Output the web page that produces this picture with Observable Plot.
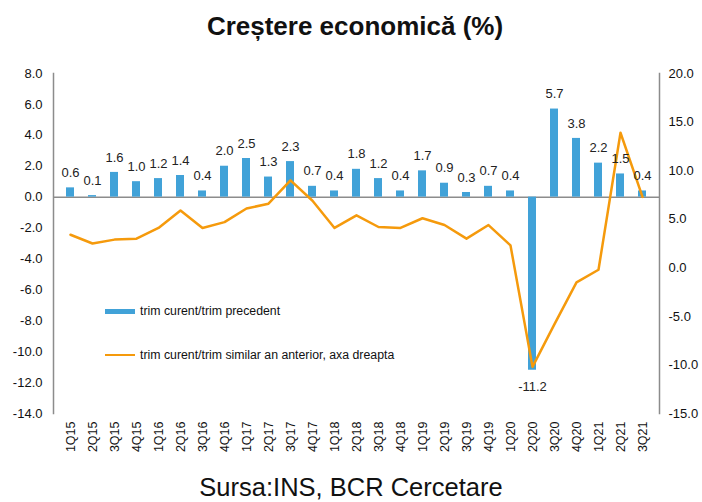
<!DOCTYPE html>
<html>
<head>
<meta charset="utf-8">
<script src="https://cdn.jsdelivr.net/npm/d3@7"></script>
<script src="https://cdn.jsdelivr.net/npm/@observablehq/plot@0.6"></script>
<style>
  body { margin: 0; background: #fff; }
  #wrap { position: relative; width: 702px; height: 502px; overflow: hidden; font-family: "Liberation Sans", Arial, sans-serif; color: #111; }
  #title { position: absolute; left: 0; width: 710px; top: 11px; text-align: center; font-weight: bold; font-size: 26px; line-height: 30px; }
  #source { position: absolute; left: 0; width: 702px; top: 475px; text-align: center; font-size: 25.5px; line-height: 25px; }
  .leg { position: absolute; font-size: 12.3px; line-height: 14px; color: #111; white-space: nowrap; }
  .sw { position: absolute; }
</style>
</head>
<body>
<div id="wrap">
  <div id="chart"></div>
  <div id="title">Creștere economică (%)</div>
  <div class="sw" style="left:105px;top:309px;width:30px;height:5px;background:#41a2d8"></div>
  <div class="leg" style="left:140px;top:304px">trim curent/trim precedent</div>
  <div class="sw" style="left:105px;top:354px;width:30px;height:2px;background:#f59a0c"></div>
  <div class="leg" style="left:140px;top:348px">trim curent/trim similar an anterior, axa dreapta</div>
  <div id="source">Sursa:INS, BCR Cercetare</div>
</div>
<script>
const quarters = ["1Q15","2Q15","3Q15","4Q15","1Q16","2Q16","3Q16","4Q16","1Q17","2Q17","3Q17","4Q17","1Q18","2Q18","3Q18","4Q18","1Q19","2Q19","3Q19","4Q19","1Q20","2Q20","3Q20","4Q20","1Q21","2Q21","3Q21"];
const qoq = [0.6,0.1,1.6,1.0,1.2,1.4,0.4,2.0,2.5,1.3,2.3,0.7,0.4,1.8,1.2,0.4,1.7,0.9,0.3,0.7,0.4,-11.2,5.7,3.8,2.2,1.5,0.4];
const yoy = [3.4,2.5,2.9,3.0,4.1,5.9,4.1,4.7,6.1,6.6,9.0,6.9,4.1,5.4,4.2,4.1,5.1,4.4,3.0,4.4,2.3,-10.2,-5.8,-1.5,-0.2,13.9,7.3];
const leftTicks = [-14,-12,-10,-8,-6,-4,-2,0,2,4,6,8];
const rightTicks = [-15,-10,-5,0,5,10,15,20];

const blue = "#41a2d8", orange = "#f59a0c", axisGray = "#8c8c8c";
const data = quarters.map((q, i) => ({q, qoq: qoq[i], yoy: yoy[i]}));
// right-axis values mapped onto the left-axis domain
const toLeft = d3.scaleLinear().domain([-15, 20]).range([-14, 8]);

const chart = Plot.plot({
  width: 702, height: 502,
  marginLeft: 53, marginRight: 43, marginTop: 73, marginBottom: 89,
  x: {domain: quarters, padding: 0, label: null},
  y: {domain: [-14, 8], label: null},
  style: {fontFamily: "'Liberation Sans', Arial, sans-serif", fontSize: "13px", color: "#111", background: "#fff"},
  marks: [
    Plot.frame({anchor: "left", stroke: axisGray, strokeWidth: 1.5}),
    Plot.frame({anchor: "right", stroke: axisGray, strokeWidth: 1.5}),
    Plot.ruleY([0], {stroke: axisGray, strokeWidth: 1.5}),
    Plot.barY(data, {x: "q", y: "qoq", fill: blue, insetLeft: 7, insetRight: 7}),
    Plot.lineY(data, {x: "q", y: d => toLeft(d.yoy), stroke: orange, strokeWidth: 2.5}),
    Plot.text(data.filter(d => d.qoq >= 0), {x: "q", y: "qoq", text: d => d.qoq.toFixed(1), dy: -15, fontSize: 13, fill: "#222"}),
    Plot.text(data.filter(d => d.qoq < 0), {x: "q", y: "qoq", text: d => d.qoq.toFixed(1), dy: 17, fontSize: 13, fill: "#222"}),
    Plot.axisY(leftTicks, {anchor: "left", tickSize: 0, tickPadding: 11, tickFormat: d => d.toFixed(1), fontSize: 13}),
    Plot.axisY(rightTicks.map(toLeft), {anchor: "right", tickSize: 0, tickPadding: 9, tickFormat: d => toLeft.invert(d).toFixed(1), fontSize: 13}),
    Plot.axisX({tickRotate: -90, tickSize: 0, tickPadding: 8, fontSize: 12.5})
  ]
});
document.getElementById("chart").appendChild(chart);
</script>
</body>
</html>
